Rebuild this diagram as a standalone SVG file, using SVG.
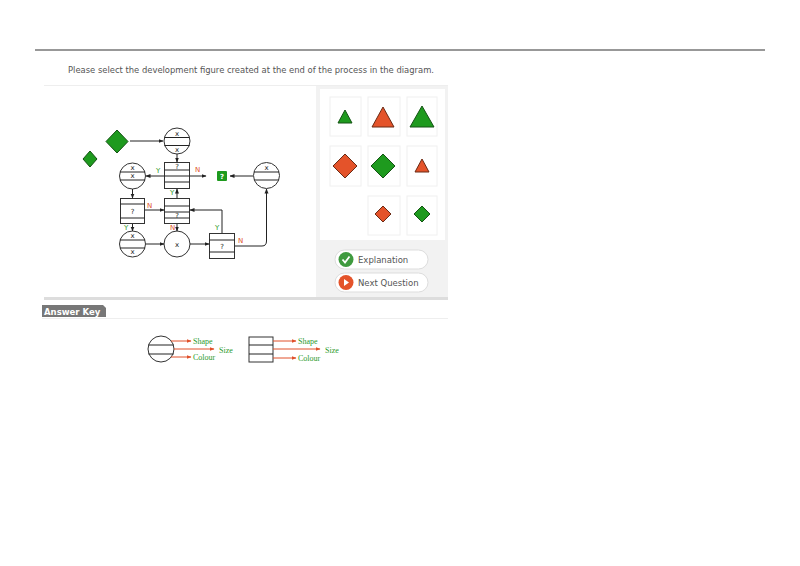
<svg xmlns="http://www.w3.org/2000/svg" width="800" height="566" viewBox="0 0 800 566">
<defs>
<marker id="a" viewBox="0 0 10 10" refX="9" refY="5" markerWidth="5" markerHeight="5" orient="auto"><path d="M0,1L10,5L0,9z" fill="#222"/></marker>
<marker id="r" viewBox="0 0 10 10" refX="9" refY="5" markerWidth="5" markerHeight="5" orient="auto"><path d="M0,1L10,5L0,9z" fill="#e0502a"/></marker>
</defs>
<style>
.n{fill:#fff;stroke:#333;stroke-width:1}
.t{font-family:"DejaVu Sans",sans-serif;font-size:7px;fill:#222;text-anchor:middle}
.c{stroke:#222;stroke-width:1;fill:none}
.y{font-family:"DejaVu Sans",sans-serif;font-size:7px;fill:#2a9a2a}
.no{font-family:"DejaVu Sans",sans-serif;font-size:7px;fill:#e0502a}
.g{fill:#1e9a1e;stroke:#145214;stroke-width:1}
.o{fill:#e4532a;stroke:#6a2a14;stroke-width:1}
.cell{fill:#fff;stroke:#f0f0f0}
.k{font-family:"Liberation Serif",serif;font-size:8px;fill:#2a9a2a}
.ka{stroke:#e0502a;stroke-width:1;fill:none}
</style>
<rect width="800" height="566" fill="#fff"/>
<line x1="35" y1="50" x2="765" y2="50" stroke="#333" stroke-width="1.2"/>
<text x="68" y="73" font-family="DejaVu Sans,sans-serif" font-size="9" fill="#555" textLength="366" lengthAdjust="spacingAndGlyphs">Please select the development figure created at the end of the process in the diagram.</text>
<line x1="44" y1="85.5" x2="448" y2="85.5" stroke="#eee"/>
<rect x="316" y="86" width="132" height="212" fill="#f2f2f2"/>
<rect x="320" y="89" width="125" height="151" fill="#fff"/>
<rect x="44" y="297" width="404" height="3" fill="#ddd"/>
<g id="options">
<rect class="cell" x="330" y="97" width="31" height="39"/><rect class="cell" x="368" y="97" width="32" height="39"/><rect class="cell" x="407" y="97" width="30" height="39"/>
<rect class="cell" x="330" y="146" width="31" height="40"/><rect class="cell" x="368" y="146" width="32" height="40"/><rect class="cell" x="407" y="146" width="30" height="40"/>
<rect class="cell" x="368" y="196" width="32" height="39"/><rect class="cell" x="407" y="196" width="30" height="39"/>
<path class="g" d="M345,110L352,123L338,123z"/>
<path class="o" d="M383,107L394,127L372,127z"/>
<path class="g" d="M422,106L434,127L410,127z"/>
<path class="o" d="M345,154L357,166L345,178L333,166z"/>
<path class="g" d="M383,154L395,166L383,178L371,166z"/>
<path class="o" d="M422,159L429,172L415,172z"/>
<path class="o" d="M383,206L391,214L383,222L375,214z"/>
<path class="g" d="M422,206L430,214L422,222L414,214z"/>
</g>
<g id="btn-explanation">
<rect x="335" y="250" width="93" height="19" rx="9.5" fill="#fff" stroke="#ddd"/>
<circle cx="346" cy="259.5" r="7.5" fill="#3f9a3f"/>
<path d="M342.5,259.5l2.5,3l4.5,-6" stroke="#fff" stroke-width="1.8" fill="none"/>
<text x="358" y="263" font-family="DejaVu Sans,sans-serif" font-size="8.5" fill="#555">Explanation</text>
</g>
<g id="btn-next">
<rect x="335" y="273" width="93" height="19" rx="9.5" fill="#fff" stroke="#ddd"/>
<circle cx="346" cy="282.5" r="7.5" fill="#e4532a"/>
<path d="M344,279v7l5,-3.5z" fill="#fff"/>
<text x="358" y="286" font-family="DejaVu Sans,sans-serif" font-size="8.5" fill="#555">Next Question</text>
</g>
<g id="answer-key-tab">
<path d="M42,305H103l3,3v9H42z" fill="#777"/>
<text x="44" y="315" font-family="DejaVu Sans,sans-serif" font-size="8.5" font-weight="bold" fill="#fff">Answer Key</text>
<line x1="42" y1="318.5" x2="448" y2="318.5" stroke="#eee"/>
</g>
<g id="diagram-nodes">
<g id="bigdiamond"><path class="g" d="M117,130L128,141.5L117,153L106,141.5z"/></g>
<g id="smalldiamond"><path class="g" d="M90,151L97,159L90,167L83,159z"/></g>
<g id="c1"><circle class="n" cx="177" cy="141" r="13"/><line class="c" x1="164.5" y1="137.5" x2="189.5" y2="137.5"/><line class="c" x1="164.5" y1="145.5" x2="189.5" y2="145.5"/><text class="t" x="177" y="136">x</text><text class="t" x="177" y="152">x</text></g>
<g id="r1"><rect class="n" x="164.5" y="162.5" width="25" height="26"/><line class="c" x1="164.5" y1="170" x2="189.5" y2="170"/><line class="c" x1="164.5" y1="176" x2="189.5" y2="176"/><line class="c" x1="164.5" y1="182" x2="189.5" y2="182"/><text class="t" x="177" y="169">?</text></g>
<g id="c2"><circle class="n" cx="132.5" cy="176" r="13"/><line class="c" x1="120" y1="172" x2="145" y2="172"/><line class="c" x1="120" y1="180" x2="145" y2="180"/><text class="t" x="132.5" y="170">x</text><text class="t" x="132.5" y="178">x</text></g>
<g id="gsq"><rect x="217" y="171" width="10" height="10" fill="#1e9a1e" rx="1"/><text x="222" y="179" font-family="DejaVu Sans,sans-serif" font-size="7" font-weight="bold" fill="#fff" text-anchor="middle">?</text></g>
<g id="c3"><circle class="n" cx="266.5" cy="175.5" r="13"/><line class="c" x1="254" y1="172" x2="279" y2="172"/><line class="c" x1="254" y1="180" x2="279" y2="180"/><text class="t" x="266.5" y="170">x</text></g>
<g id="r2"><rect class="n" x="120.5" y="198.5" width="24" height="25"/><line class="c" x1="120.5" y1="204" x2="144.5" y2="204"/><line class="c" x1="120.5" y1="218" x2="144.5" y2="218"/><text class="t" x="132.5" y="214">?</text></g>
<g id="r3"><rect class="n" x="164.5" y="198.5" width="25" height="25"/><line class="c" x1="164.5" y1="206" x2="189.5" y2="206"/><line class="c" x1="164.5" y1="212" x2="189.5" y2="212"/><line class="c" x1="164.5" y1="218" x2="189.5" y2="218"/><text class="t" x="177" y="218">?</text></g>
<g id="c4"><circle class="n" cx="132.5" cy="244" r="13"/><line class="c" x1="120" y1="240" x2="145" y2="240"/><line class="c" x1="120" y1="248" x2="145" y2="248"/><text class="t" x="132.5" y="238">x</text><text class="t" x="132.5" y="254">x</text></g>
<g id="c5"><circle class="n" cx="177" cy="244" r="13"/><text class="t" x="177" y="247">x</text></g>
<g id="r4"><rect class="n" x="209.5" y="233.5" width="25" height="25"/><line class="c" x1="209.5" y1="240" x2="234.5" y2="240"/><line class="c" x1="209.5" y1="252" x2="234.5" y2="252"/><text class="t" x="222" y="249">?</text></g>
</g>
<g id="connectors">
<line class="c" x1="130" y1="141" x2="163" y2="141" marker-end="url(#a)"/>
<line class="c" x1="177" y1="154" x2="177" y2="162" marker-end="url(#a)"/>
<line class="c" x1="164" y1="176" x2="146" y2="176" marker-end="url(#a)"/>
<line class="c" x1="190" y1="176" x2="206" y2="176" marker-end="url(#a)"/>
<line class="c" x1="253" y1="176" x2="230" y2="176" marker-end="url(#a)"/>
<line class="c" x1="132.5" y1="189" x2="132.5" y2="198" marker-end="url(#a)"/>
<line class="c" x1="145" y1="210" x2="164" y2="210" marker-end="url(#a)"/>
<line class="c" x1="177" y1="198" x2="177" y2="189" marker-end="url(#a)"/>
<line class="c" x1="132.5" y1="224" x2="132.5" y2="231" marker-end="url(#a)"/>
<line class="c" x1="177" y1="224" x2="177" y2="231" marker-end="url(#a)"/>
<line class="c" x1="146" y1="244" x2="164" y2="244" marker-end="url(#a)"/>
<line class="c" x1="190" y1="244" x2="209" y2="244" marker-end="url(#a)"/>
<path class="c" d="M222,233V210H190" marker-end="url(#a)"/>
<path class="c" d="M235,246H262Q266.5,246 266.5,241V189" marker-end="url(#a)"/>
<text class="y" x="156" y="173">Y</text><text class="no" x="195" y="172">N</text>
<text class="no" x="147" y="208">N</text><text class="y" x="170" y="195">Y</text>
<text class="y" x="124" y="230">Y</text><text class="no" x="170" y="230">N</text>
<text class="y" x="215" y="230">Y</text><text class="no" x="238" y="243">N</text>
</g>
<g id="key-circle">
<circle class="n" cx="161" cy="349" r="13"/><line class="c" x1="148.5" y1="345" x2="173.5" y2="345"/><line class="c" x1="148.5" y1="354" x2="173.5" y2="354"/>
<line class="ka" x1="171" y1="341" x2="191" y2="341" marker-end="url(#r)"/>
<line class="ka" x1="174" y1="349" x2="214" y2="349" marker-end="url(#r)"/>
<line class="ka" x1="171" y1="357" x2="191" y2="357" marker-end="url(#r)"/>
<text class="k" x="193" y="344">Shape</text><text class="k" x="219" y="353">Size</text><text class="k" x="193" y="360">Colour</text>
</g>
<g id="key-rect">
<rect class="n" x="249" y="337" width="24" height="25"/><line class="c" x1="249" y1="345" x2="273" y2="345"/><line class="c" x1="249" y1="354" x2="273" y2="354"/>
<line class="ka" x1="273" y1="341" x2="296" y2="341" marker-end="url(#r)"/>
<line class="ka" x1="273" y1="349" x2="320" y2="349" marker-end="url(#r)"/>
<line class="ka" x1="273" y1="358" x2="296" y2="358" marker-end="url(#r)"/>
<text class="k" x="298" y="344">Shape</text><text class="k" x="325" y="353">Size</text><text class="k" x="298" y="361">Colour</text>
</g>
</svg>
